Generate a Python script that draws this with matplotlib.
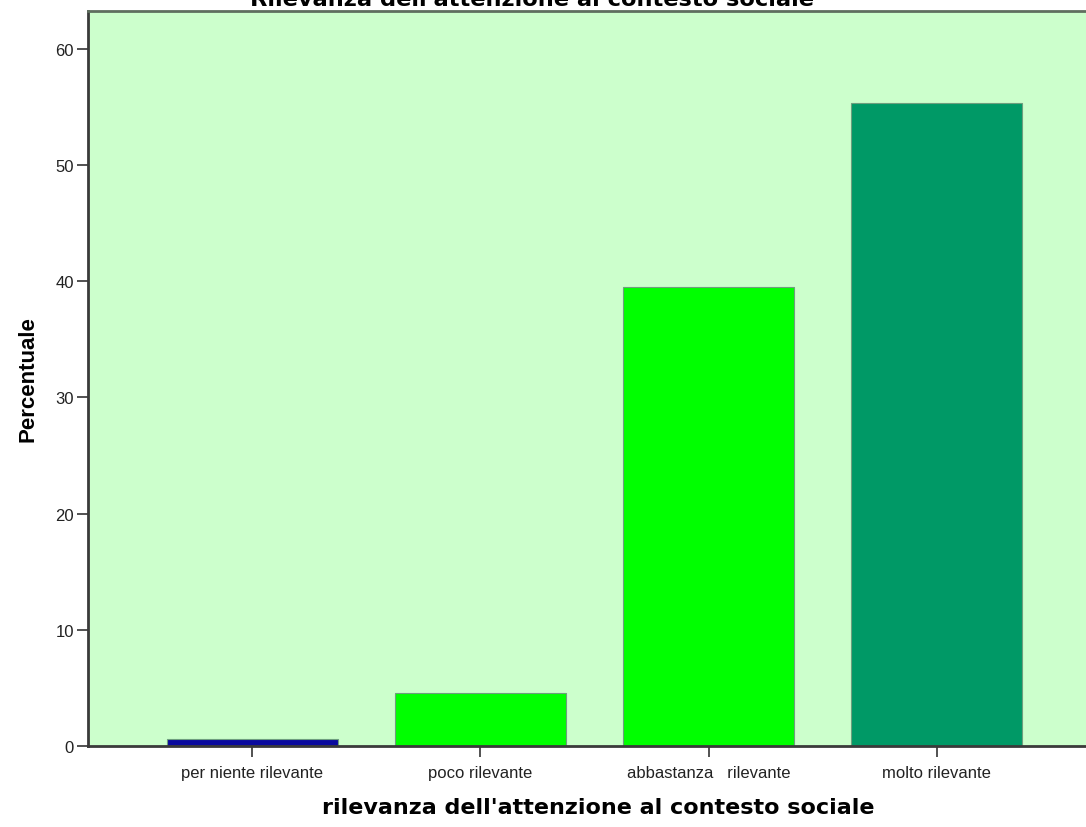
import matplotlib
matplotlib.use('Agg')
import matplotlib.pyplot as plt

# dati
categorie = ['per niente rilevante', 'poco rilevante', 'abbastanza   rilevante', 'molto rilevante']
percentuali = [0.6, 4.6, 39.5, 55.3]
colori = ['#0a0a9e', '#00ff00', '#00ff00', '#009966']
y_ticks = [0, 10, 20, 30, 40, 50, 60]

plt.rcParams['font.family'] = ['Liberation Sans', 'DejaVu Sans']

fig = plt.figure(figsize=(10.86, 8.28), dpi=100)
ax = fig.add_axes([88 / 1086, 1 - 747 / 828, 1020 / 1086, 735 / 828])
ax.set_facecolor('#ccffcc')

x = list(range(len(categorie)))
ax.bar(x, percentuali, width=0.75, color=colori, edgecolor='#6e9e7e', linewidth=0.8, zorder=2)

ax.set_xlim(-0.72, 3.75)
ax.set_ylim(0, 63.25)
ax.set_yticks(y_ticks)
ax.set_xticks(x)
ax.set_xticklabels(categorie, fontsize=12, color='#222222')
ax.tick_params(axis='y', labelsize=12, labelcolor='#222222', length=8, width=1.2, color='#333333', pad=2)
ax.tick_params(axis='x', length=8, width=1.2, color='#333333', pad=6)

for side in ['left', 'bottom', 'top']:
    ax.spines[side].set_linewidth(2)
    ax.spines[side].set_color('#3a3a3a')
ax.spines['top'].set_color('#5f6f5f')
ax.spines['right'].set_visible(False)

ax.set_ylabel('Percentuale', fontsize=16, fontweight='bold', labelpad=12)
ax.set_xlabel("rilevanza dell'attenzione al contesto sociale", fontsize=16,
              fontweight='bold', family='DejaVu Sans', labelpad=12)

# titolo tagliato in alto, come nell'originale
fig.text(532 / 1086, 1 - 6 / 828, "Rilevanza dell'attenzione al contesto sociale",
         ha='center', va='baseline', fontsize=16.2, fontweight='bold', family='DejaVu Sans')

fig.savefig('out.png', dpi=100, facecolor='white')
